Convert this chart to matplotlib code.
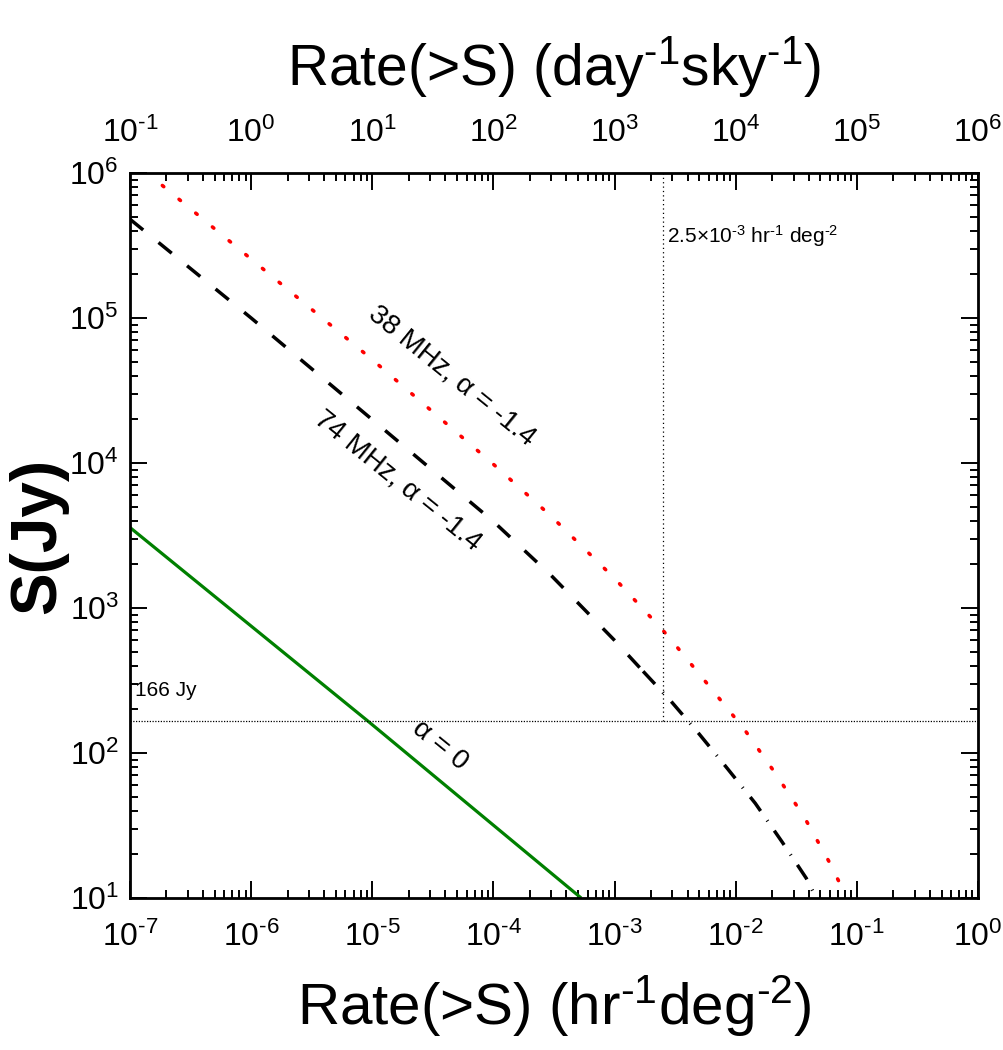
import numpy as np
import matplotlib
matplotlib.use('Agg')
import matplotlib.pyplot as plt
from matplotlib.ticker import LogLocator, NullFormatter, FuncFormatter

FONT = ['Liberation Sans', 'DejaVu Sans']
plt.rcParams['font.family'] = FONT
plt.rcParams['mathtext.fontset'] = 'custom'
plt.rcParams['mathtext.rm'] = 'Liberation Sans'
plt.rcParams['mathtext.it'] = 'Liberation Sans'
plt.rcParams['mathtext.default'] = 'regular'

# 38 MHz, alpha = -1.4 (red dotted)
rate_38 = [1.85e-7, 1e-6, 1e-5, 1e-4, 3e-4, 1e-3, 2.5e-3, 3.29e-3, 6.15e-3,
           1.175e-2, 2.12e-2, 3.68e-2, 5.92e-2, 8.3e-2]
s_38 = [8.2e5, 2.55e5, 5.16e4, 9800, 4290, 1600, 703, 536, 284,
        146, 72.6, 36.1, 17.7, 10]

# 74 MHz, alpha = -1.4 (black), dashed head and dash-dot tail
rate_74 = [1e-7, 1e-6, 1e-5, 1e-4, 3e-4, 1e-3, 1.72e-3]
s_74 = [4.8e5, 1.0e5, 1.99e4, 3950, 1675, 598, 366]
rate_74_tail = [1.72e-3, 2.93e-3, 5.0e-3, 8.5e-3, 1.45e-2, 2.42e-2, 3.82e-2, 4.54e-2]
s_74_tail = [366, 227, 135, 78.5, 45, 24.3, 13.7, 10.3]

# alpha = 0 (green)
rate_a0 = [1e-7, 9.2e-6, 5.3e-4]
s_a0 = [3590, 166, 10]

s_limit = 166        # Jy
rate_limit = 2.5e-3  # hr^-1 deg^-2
top_factor = 1e6     # hr^-1 deg^-2 -> day^-1 sky^-1


def pow10(v, pos):
    e = int(round(np.log10(v)))
    return r'10$^{\text{%d}}$' % e


def style_log_axis(axis):
    axis.set_major_locator(LogLocator(base=10, numticks=20))
    axis.set_minor_locator(LogLocator(base=10, subs=np.arange(2, 10), numticks=100))
    axis.set_major_formatter(FuncFormatter(pow10))
    axis.set_minor_formatter(NullFormatter())


fig = plt.figure(figsize=(10.04, 10.5), dpi=100)
ax = fig.add_axes([130 / 1004, 1 - 898 / 1050, 848 / 1004, 725 / 1050])

ax.plot(rate_38, s_38, color='red', lw=2.6, dashes=(0.5, 5.5),
        dash_capstyle='round')
ax.plot(rate_74, s_74, color='black', lw=2.5, dashes=(4.9, 5.7))
ax.plot(rate_74_tail, s_74_tail, color='black', lw=2.5,
        dashes=(5.0, 3.3, 0.3, 3.3))
ax.plot(rate_a0, s_a0, color='#008000', lw=2.3, solid_capstyle='butt')

ax.axhline(s_limit, color='black', lw=0.9, dashes=(1, 1.2))
ax.plot([rate_limit, rate_limit], [s_limit, 1e6], color='black', lw=0.9,
        dashes=(1, 2.5))

ax.set_xscale('log')
ax.set_yscale('log')
ax.set_xlim(1e-7, 1)
ax.set_ylim(10, 1e6)
style_log_axis(ax.xaxis)
style_log_axis(ax.yaxis)

ax.tick_params(which='both', direction='in', right=True, width=1.4,
               labelsize=23)
ax.tick_params(axis='x', which='both', top=False, pad=17)
ax.tick_params(axis='y', which='both', pad=8)
ax.tick_params(which='major', length=12)
ax.tick_params(which='minor', length=6)
for sp in ax.spines.values():
    sp.set_linewidth(2)

ax2 = ax.twiny()
ax2.set_xscale('log')
ax2.set_xlim(1e-7 * top_factor, 1 * top_factor)
style_log_axis(ax2.xaxis)
ax2.tick_params(which='both', direction='in', width=1.4, labelsize=23, pad=17)
ax2.tick_params(which='major', length=12)
ax2.tick_params(which='minor', length=6)

ax.set_xlabel(r'Rate(>S) (hr$^{\text{-1}}$deg$^{\text{-2}}$)', fontsize=42)
ax.xaxis.set_label_coords(0.5, -0.104)
ax2.set_xlabel(r'Rate(>S) (day$^{\text{-1}}$sky$^{\text{-1}}$)', fontsize=41)
ax2.xaxis.set_label_coords(0.5, 1.122)
ax.set_ylabel('S(Jy)', fontsize=46, fontweight='bold')
ax.yaxis.set_label_coords(-0.073, 0.5)

ax.text(4.56e-5, 4.0e4, '38 MHz, α = -1.4', rotation=-39, fontsize=20,
        ha='center', va='center', rotation_mode='anchor')
ax.text(1.63e-5, 7570, '74 MHz, α = -1.4', rotation=-39, fontsize=20,
        ha='center', va='center', rotation_mode='anchor')
ax.text(3.63e-5, 113, 'α = 0', rotation=-39, fontsize=20,
        ha='center', va='center', rotation_mode='anchor')
ax.text(1.1e-7, 270, '166 Jy', fontsize=15, ha='left', va='center')
ax.text(2.72e-3, 3.68e5, r'2.5$\times$10$^{\text{-3}}$ hr$^{\text{-1}}$ deg$^{\text{-2}}$',
        fontsize=15, ha='left', va='center')

fig.savefig('out.png', dpi=100)
